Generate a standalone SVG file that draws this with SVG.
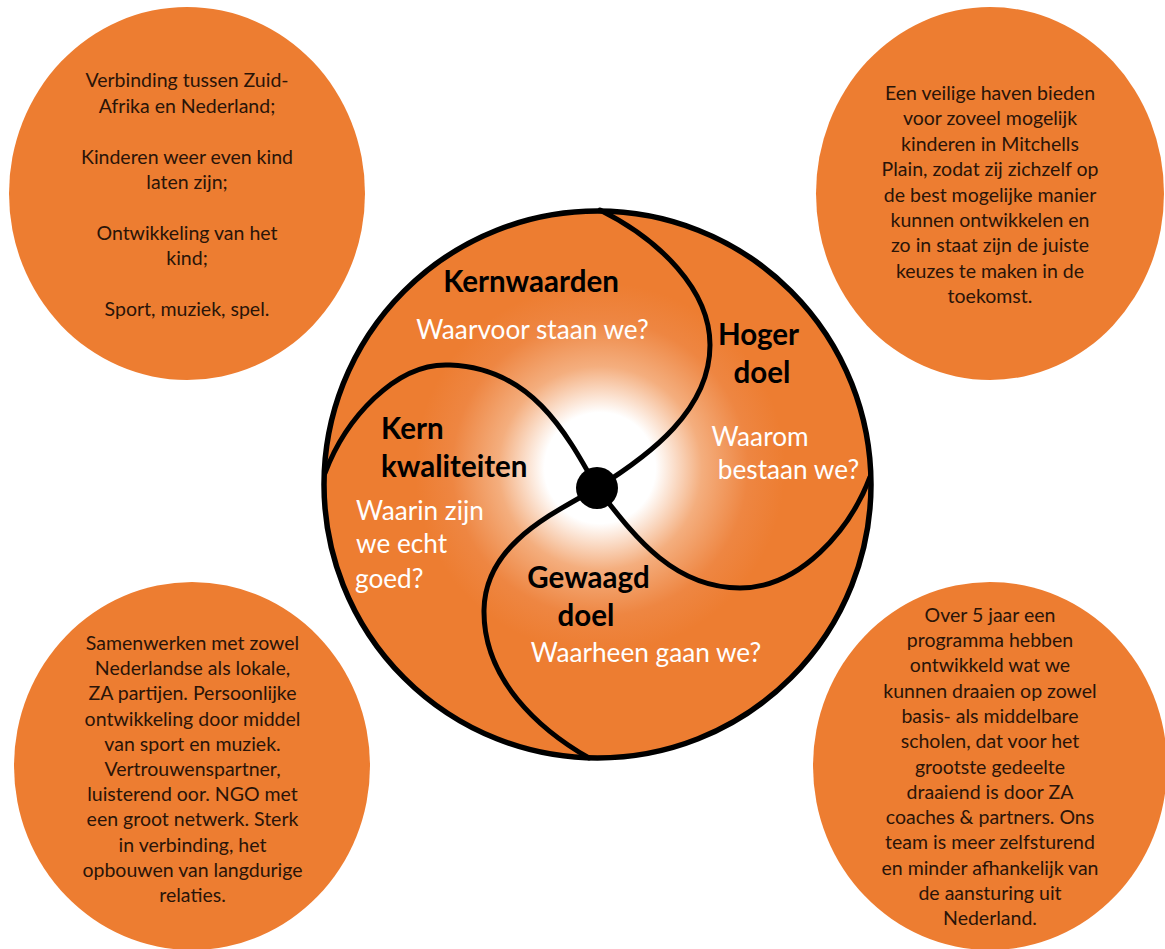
<svg xmlns="http://www.w3.org/2000/svg" width="1165" height="949" viewBox="0 0 1165 949">
<style>
.bub{fill:#ED7D31}
.ct{font-family:Lato,"Liberation Sans",sans-serif;font-size:19.5px;fill:#2a1408;text-anchor:middle}
.bold{font-family:Lato,"Liberation Sans",sans-serif;font-size:29.5px;font-weight:bold;fill:#000}
.q{font-family:Lato,"Liberation Sans",sans-serif;font-size:26.2px;fill:#fff}
.mid{text-anchor:middle}
.sw{fill:none;stroke:#000;stroke-width:5;stroke-linecap:round}
</style>
<defs>
<radialGradient id="glow" gradientUnits="userSpaceOnUse" cx="600" cy="468" r="185">
<stop offset="0" stop-color="#fff"/>
<stop offset="0.3" stop-color="#fff"/>
<stop offset="0.55" stop-color="#F4AE7E"/>
<stop offset="0.8" stop-color="#EE8642"/>
<stop offset="1" stop-color="#ED7D31"/>
</radialGradient>
</defs>
<rect width="1165" height="949" fill="#fff"/>
<g id="bubble-tl">
<ellipse class="bub" cx="187" cy="193.5" rx="178" ry="186.5"/>
<text class="ct" x="187" y="87">Verbinding tussen Zuid-</text>
<text class="ct" x="187" y="112.5">Afrika en Nederland;</text>
<text class="ct" x="187" y="163.5">Kinderen weer even kind</text>
<text class="ct" x="187" y="189">laten zijn;</text>
<text class="ct" x="187" y="239.5">Ontwikkeling van het</text>
<text class="ct" x="187" y="265">kind;</text>
<text class="ct" x="187" y="315.5">Sport, muziek, spel.</text>
</g>
<g id="bubble-tr">
<ellipse class="bub" cx="990" cy="193.5" rx="174" ry="186.5"/>
<text class="ct" x="990" y="100">Een veilige haven bieden</text>
<text class="ct" x="990" y="125.4">voor zoveel mogelijk</text>
<text class="ct" x="990" y="150.8">kinderen in Mitchells</text>
<text class="ct" x="990" y="176.2">Plain, zodat zij zichzelf op</text>
<text class="ct" x="990" y="201.6">de best mogelijke manier</text>
<text class="ct" x="990" y="227">kunnen ontwikkelen en</text>
<text class="ct" x="990" y="252.4">zo in staat zijn de juiste</text>
<text class="ct" x="990" y="277.8">keuzes te maken in de</text>
<text class="ct" x="990" y="303.2">toekomst.</text>
</g>
<g id="bubble-bl">
<ellipse class="bub" cx="192" cy="766" rx="178" ry="184"/>
<text class="ct" x="192.5" y="650">Samenwerken met zowel</text>
<text class="ct" x="192.5" y="675.2">Nederlandse als lokale,</text>
<text class="ct" x="192.5" y="700.4">ZA partijen. Persoonlijke</text>
<text class="ct" x="192.5" y="725.6">ontwikkeling door middel</text>
<text class="ct" x="192.5" y="750.8">van sport en muziek.</text>
<text class="ct" x="192.5" y="776">Vertrouwenspartner,</text>
<text class="ct" x="192.5" y="801.2">luisterend oor. NGO met</text>
<text class="ct" x="192.5" y="826.4">een groot netwerk. Sterk</text>
<text class="ct" x="192.5" y="851.6">in verbinding, het</text>
<text class="ct" x="192.5" y="876.8">opbouwen van langdurige</text>
<text class="ct" x="192.5" y="902">relaties.</text>
</g>
<g id="bubble-br">
<ellipse class="bub" cx="990" cy="766" rx="177" ry="184"/>
<text class="ct" x="990" y="621.7">Over 5 jaar een</text>
<text class="ct" x="990" y="647">programma hebben</text>
<text class="ct" x="990" y="672.3">ontwikkeld wat we</text>
<text class="ct" x="990" y="697.6">kunnen draaien op zowel</text>
<text class="ct" x="990" y="722.9">basis- als middelbare</text>
<text class="ct" x="990" y="748.2">scholen, dat voor het</text>
<text class="ct" x="990" y="773.5">grootste gedeelte</text>
<text class="ct" x="990" y="798.8">draaiend is door ZA</text>
<text class="ct" x="990" y="824.1">coaches &amp; partners. Ons</text>
<text class="ct" x="990" y="849.4">team is meer zelfsturend</text>
<text class="ct" x="990" y="874.7">en minder afhankelijk van</text>
<text class="ct" x="990" y="900">de aansturing uit</text>
<text class="ct" x="990" y="925.3">Nederland.</text>
</g>
<g id="wheel">
<circle cx="597.5" cy="484.5" r="273.5" fill="url(#glow)" stroke="#000" stroke-width="5.5"/>
</g>
<g id="connectors">
<path class="sw" d="M597,488 C650,455 710,410 710,345 C710,290 660,240 600,210"/>
<path class="sw" d="M597,488 C630,530 670,588 740,588 C800,588 850,530 870,477"/>
<path class="sw" d="M597,488 C550,515 485,545 484,610 C483,680 540,730 589,758"/>
<path class="sw" d="M597,488 C565,430 530,368 450,365 C395,362 345,420 325,473"/>
<circle cx="597" cy="488" r="21" fill="#000"/>
</g>
<g id="seg-kernwaarden">
<text class="bold mid" x="531" y="292">Kernwaarden</text>
<text class="q mid" x="532.5" y="339">Waarvoor staan we?</text>
</g>
<g id="seg-hoger-doel">
<text class="bold mid" x="758.5" y="345">Hoger</text>
<text class="bold mid" x="762" y="383">doel</text>
<text class="q mid" x="760" y="446">Waarom</text>
<text class="q mid" x="788.5" y="478.5">bestaan we?</text>
</g>
<g id="seg-kernkwaliteiten">
<text class="bold" x="381" y="438.5">Kern</text>
<text class="bold" x="381" y="477">kwaliteiten</text>
<text class="q" x="356" y="519.5">Waarin zijn</text>
<text class="q" x="356" y="553">we echt</text>
<text class="q" x="355" y="587.5">goed?</text>
</g>
<g id="seg-gewaagd-doel">
<text class="bold mid" x="588.5" y="587.5">Gewaagd</text>
<text class="bold mid" x="586" y="625.5">doel</text>
<text class="q mid" x="646" y="662">Waarheen gaan we?</text>
</g>
</svg>
